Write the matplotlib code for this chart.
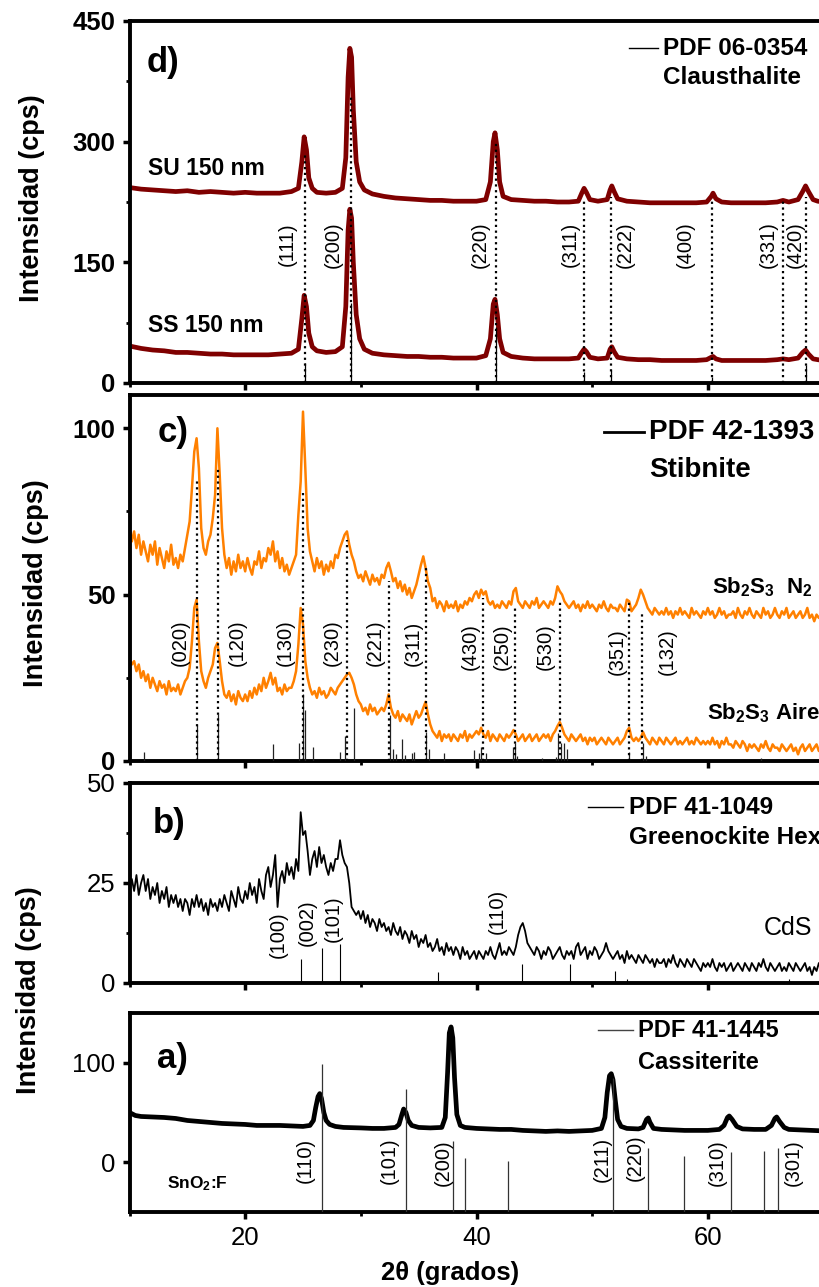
import numpy as np
import matplotlib
matplotlib.use("Agg")
import matplotlib.pyplot as plt
from matplotlib.ticker import MultipleLocator

plt.rcParams['font.family'] = ['Liberation Sans', 'DejaVu Sans']
plt.rcParams['mathtext.fontset'] = 'custom'
plt.rcParams['mathtext.rm'] = 'Liberation Sans:bold'
plt.rcParams['mathtext.bf'] = 'Liberation Sans:bold'
plt.rcParams['mathtext.it'] = 'Liberation Sans:bold:italic'

# ---------------------------------------------------------------- data
# d) PbSe films (Clausthalite)
pbse_x = [10, 11, 12, 13, 14, 15, 16, 17, 18, 19, 20, 21, 22, 23, 24, 24.6, 24.9, 25.1, 25.3, 25.5,
          25.8, 26.2, 27, 27.8, 28.4, 28.7, 28.9, 29.05, 29.2, 29.35, 29.6, 29.9, 30.3, 31, 32, 33, 34,
          35, 36, 37, 38, 39, 40, 40.8, 41.2, 41.45, 41.6, 41.8, 42.0, 42.3, 43, 44, 45, 46, 47, 48,
          48.8, 49.1, 49.3, 49.5, 49.8, 50.5, 51.3, 51.55, 51.7, 51.9, 52.2, 53, 54, 55, 56, 57, 58,
          59, 59.9, 60.3, 60.45, 60.7, 61.2, 62, 63, 64, 65, 66, 66.5, 67, 67.8, 68.2, 68.45, 68.7,
          69.1, 69.5, 70]
pbse_su = [243, 241, 240, 239, 238, 239, 237, 238, 237, 236, 237, 236, 236, 236, 238, 242, 275, 306,
           290, 255, 242, 237, 236, 237, 242, 280, 380, 416, 405, 340, 275, 250, 240, 235, 232, 230,
           229, 228, 227, 227, 226, 226, 226, 228, 250, 300, 311, 290, 250, 232, 228, 227, 226, 226,
           225, 225, 226, 236, 242, 237, 228, 226, 228, 240, 245, 238, 229, 226, 225, 224, 224, 224,
           224, 224, 225, 232, 236, 229, 225, 224, 224, 224, 224, 225, 227, 225, 228, 238, 245, 238,
           228, 226, 225]
pbse_ss = [46, 43, 41, 40, 38, 38, 37, 36, 36, 35, 35, 35, 35, 36, 37, 42, 80, 109, 95, 62, 45, 40,
           38, 39, 45, 95, 190, 216, 205, 150, 85, 55, 42, 37, 35, 34, 33, 33, 32, 32, 31, 31, 31, 34,
           55, 98, 104, 85, 55, 38, 33, 31, 30, 30, 30, 30, 31, 38, 42, 39, 32, 30, 31, 42, 45, 39,
           32, 30, 29, 29, 28, 28, 28, 28, 29, 32, 33, 30, 28, 28, 28, 28, 28, 29, 30, 29, 31, 38,
           41, 36, 30, 29, 28]
pbse_pos = [25.16, 29.14, 41.66, 49.3, 51.66, 60.4, 66.5, 68.5]
pbse_int = [25, 100, 70, 14, 16, 8, 3, 22]
pbse_hkl = ['(111)', '(200)', '(220)', '(311)', '(222)', '(400)', '(331)', '(420)']

# c) Sb2S3 films (Stibnite), sampled every 0.2 deg from 10 to 70
sb_step = 0.2
sb_n2 = [70, 66, 69, 64, 68, 62, 66, 63, 60, 65,
         62, 66, 59, 64, 61, 58, 63, 60, 65, 59,
         61, 58, 62, 60, 64, 68, 72, 82, 93, 97,
         88, 70, 64, 62, 66, 68, 73, 80, 100, 86,
         70, 62, 58, 61, 56, 60, 57, 62, 58, 60,
         57, 61, 58, 56, 60, 59, 63, 58, 61, 60,
         64, 62, 66, 60, 63, 58, 61, 57, 59, 56,
         58, 60, 62, 74, 84, 105, 88, 70, 63, 60,
         57, 61, 58, 60, 56, 59, 57, 60, 58, 62,
         61, 64, 66, 68, 69, 65, 62, 60, 57, 55,
         56, 54, 57, 55, 53, 56, 54, 55, 53, 56,
         55, 58, 59.6, 57, 54, 55, 52, 54, 51, 53,
         50, 52, 49, 51, 53, 56, 59, 61.5, 58, 54,
         52, 48, 49, 46, 48, 47, 45, 48, 46, 47,
         46, 48, 45, 47, 46, 48, 47, 49, 48, 50,
         51, 49, 51.5, 50, 51, 48, 47, 48, 46, 47,
         46, 48, 47, 46, 48, 47, 51, 52, 48, 47,
         46, 48, 47, 46, 48, 47, 49, 46, 47, 48,
         47, 46, 48, 47, 49, 52.5, 51, 50, 48, 47,
         46, 47, 48, 46, 47, 45, 47, 46, 48, 46,
         47, 46, 45, 47, 46, 48, 46, 45, 47, 46,
         46, 45, 47, 46, 45, 48.5, 48, 45, 46, 47,
         49, 51.5, 50, 48, 46, 45, 44, 46, 45, 44,
         45, 44, 46, 44, 45, 43, 45, 44, 46, 44,
         45, 44, 43, 46, 44, 45, 44, 43, 45, 44,
         46, 44, 45, 43, 44, 46, 44, 45, 43, 44,
         44, 45, 43, 46, 44, 43, 45, 44, 46, 44,
         43, 45, 44, 43, 46, 44, 45, 43, 44, 46,
         44, 43, 45, 44, 46, 43, 44, 45, 43, 44,
         45, 43, 44, 46, 43, 44, 42, 44, 43, 44,
         43]
sb_aire = [31, 29, 30, 27, 29, 25, 27, 24, 26, 22,
           25, 23, 21, 24, 22, 23, 20, 24, 21, 22,
           21, 23, 20, 22, 24, 25, 28, 36, 46, 48.5,
           36, 27, 24, 22, 25, 27, 29, 34, 35.5, 30,
           24, 20, 19, 21, 18, 20, 17, 21, 19, 18,
           20, 18, 21, 19, 22, 20, 23, 21, 25, 22,
           24, 26.5, 23, 25, 21, 22, 20, 23, 21, 22,
           22, 24, 27, 35, 46, 41, 30, 25, 22, 20,
           21, 19, 22, 20, 21, 19, 20, 22, 21, 20,
           22, 23, 24, 25, 26, 26.5, 25, 23, 20, 18,
           17, 15, 16, 14, 17, 15, 16, 14, 15, 16,
           15, 17, 20, 16, 14, 13, 15, 12, 14, 13,
           12, 14, 11, 13, 15, 13, 14, 16, 17.8, 14,
           11, 9, 8, 7, 9, 6, 8, 7, 8, 6,
           8, 7, 6, 8, 7, 9, 6, 8, 7, 8,
           9, 8, 10, 8, 7, 9, 6, 8, 7, 6,
           8, 7, 6, 8, 7, 8, 9.3, 8, 6, 7,
           8, 6, 7, 8, 6, 7, 8, 6, 7, 8,
           7, 8, 6, 8, 9, 10.5, 11.7, 10, 8, 7,
           6, 8, 7, 6, 7, 8, 6, 7, 5, 7,
           6, 7, 5, 6, 7, 6, 5, 7, 6, 5,
           6, 7, 5, 6, 7, 9, 10, 7, 6, 7,
           6, 7, 8.7, 7, 6, 5, 7, 6, 5, 7,
           6, 5, 7, 6, 5, 6, 7, 5, 6, 5,
           6, 7, 5, 6, 5, 7, 6, 5, 6, 5,
           6, 5, 7, 5, 6, 4, 6, 5, 7, 5,
           5, 4, 6, 5, 4, 6, 5, 3, 5, 4,
           5, 4, 3, 5, 4, 6, 4, 3, 5, 4,
           4, 3, 5, 4, 3, 4, 5, 3, 4, 2,
           4, 5, 3, 4, 5, 3, 4, 5, 3, 4,
           4]
sb_hkl_pos = [15.81, 17.62, 25.03, 28.78, 32.46, 35.65, 40.52, 43.3, 47.2, 53.18, 54.3]
sb_hkl_top = [85, 88, 81, 66.5, 54, 59, 49, 46.5, 48, 48.5, 44.6]
sb_hkl = ['(020)', '(120)', '(130)', '(230)', '(221)', '(311)', '(430)', '(250)', '(530)',
          '(351)', '(132)']
sb_pdf_pos = [11.26, 15.82, 17.63, 22.43, 24.68, 25.0, 25.14, 25.86, 28.23, 28.66, 29.38, 32.55,
              32.79, 33.0, 33.56, 33.85, 34.43, 34.57, 35.67, 35.87, 37.17, 39.77, 40.2, 40.4,
              40.78, 43.18, 43.32, 43.46, 45.69, 46.84, 47.04, 47.27, 47.56, 47.79, 53.19, 54.37,
              54.63, 64.58]
sb_pdf_int = [2.6, 10.8, 14, 5.1, 5.3, 20, 15.4, 4.3, 2.6, 7.5, 16, 13.9,
              3.5, 2, 6.5, 1.8, 2.3, 2.8, 8.8, 3.5, 2.3, 3.3, 2.3, 4.3,
              2.5, 4.1, 5.3, 1.5, 1, 1.3, 8.5, 5.3, 5.3, 3.5, 2.8, 5.3,
              1.5, 1]

# b) CdS film (Greenockite), sampled every 0.2 deg from 10 to 70
cds_step = 0.2
cds = [24, 26, 23, 27, 22, 25, 27, 23, 26, 21,
       24, 22, 25, 20, 23, 21, 24, 19, 22, 20,
       22, 19, 21, 18, 21, 20, 17, 21, 19, 22,
       19, 21, 18, 20, 17, 21, 19, 20, 18, 21,
       19, 22, 20, 18, 23, 21, 19, 24, 21, 20,
       23, 21, 25, 22, 24, 20, 26, 23, 21, 27,
       29, 24, 27, 32, 19, 26, 28, 25, 30, 27,
       29, 26, 31, 28, 42.7, 37, 38, 33, 27, 31,
       33, 29, 34, 30, 32, 29, 27, 30, 28, 31,
       31, 35.7, 32, 30, 29, 25, 19, 18, 17, 18,
       16, 18, 15, 17, 14, 16, 15, 13, 16, 14,
       15, 13, 14, 12, 15, 13, 12, 14, 11, 13,
       12, 10, 13, 11, 12, 9, 11, 10, 12, 9,
       10, 8, 9, 11, 8, 9, 7, 10, 8, 9,
       7, 9, 8, 6, 9, 7, 8, 6, 7, 8,
       6, 8, 7, 6, 8, 7, 9, 7, 6, 8,
       10, 7, 8, 7, 9, 8, 7, 9, 12, 14,
       15, 13, 10, 9, 8, 7, 9, 8, 6, 8,
       7, 9, 8, 6, 7, 8, 9, 7, 6, 8,
       7, 8, 6, 9, 10, 7, 8, 9, 6, 8,
       7, 9, 8, 6, 7, 8, 10, 8, 7, 6,
       7, 8, 6, 7, 5, 8, 6, 7, 6, 5,
       7, 6, 5, 7, 6, 5, 6, 4, 6, 5,
       5, 6, 4, 6, 5, 7, 5, 4, 6, 5,
       4, 6, 5, 4, 6, 5, 4, 3, 5, 4,
       5, 4, 6, 4, 3, 5, 4, 5, 3, 4,
       5, 3, 4, 5, 4, 3, 5, 4, 3, 5,
       4, 3, 5, 4, 6, 4, 3, 5, 4, 3,
       4, 5, 3, 4, 3, 5, 4, 3, 5, 4,
       3, 4, 5, 3, 4, 2, 4, 3, 5, 3,
       3]
cds_pdf_pos = [24.85, 26.6, 28.2, 36.7, 43.9, 48.05, 52.0, 53.0, 67.0]
cds_pdf_int = [6, 8.8, 9.8, 2.7, 4.7, 4.7, 3, 1, 1]
cds_hkl_pos = [24.85, 26.6, 28.2, 43.9]
cds_hkl = ['(100)', '(002)', '(101)', '(110)']

# a) SnO2:F substrate (Cassiterite)
fto_x = [10, 10.5, 11, 12, 13, 14, 15, 16, 17, 18, 19, 20, 21, 22, 23, 24, 25, 25.6, 25.9, 26.1,
         26.3, 26.45, 26.6, 26.8, 27.0, 27.3, 27.8, 28.5, 30, 31, 32, 33, 33.3, 33.55, 33.7, 33.9,
         34.1, 34.4, 35, 36, 37.0, 37.3, 37.5, 37.65, 37.8, 37.95, 38.1, 38.3, 38.6, 39, 40, 41,
         42, 43, 44, 45, 46, 47, 48, 49, 50, 50.8, 51.1, 51.3, 51.5, 51.65, 51.8, 52.0, 52.2, 52.5,
         53, 54, 54.4, 54.7, 54.85, 55.0, 55.3, 56, 57, 58, 59, 60, 61, 61.4, 61.7, 61.85, 62.1,
         62.5, 63, 64, 65, 65.5, 65.8, 65.95, 66.2, 66.6, 67, 68, 69, 70]
fto_y = [50, 47, 46, 45.5, 45, 44, 42, 41, 40, 39, 38.5, 38, 37, 37, 37, 36.5, 36, 37, 42, 55,
         66, 69, 64, 50, 42, 38, 36, 35, 34.5, 34, 34, 35, 38, 48, 53.5, 50,
         42, 37, 35, 34.5, 35, 45, 90, 130, 136, 125, 85, 48, 37, 35, 34, 33.5,
         33, 33, 32, 31.5, 31, 31.5, 31, 31.5, 32, 34, 45, 70, 87, 89, 83, 62, 43, 36,
         34, 33.5, 35, 43, 44.5, 40, 34, 33, 32.5, 32, 32, 32, 33, 37, 45, 46.5, 43,
         36, 33.5, 33, 33, 37, 44, 45.5, 41, 35, 33, 32.5, 32, 31.5]
fto_pdf_pos = [26.6, 33.9, 38.0, 39.0, 42.7, 51.8, 54.8, 57.9, 62.0, 64.85, 66.1]
fto_pdf_int = [149, 124, 71, 54, 51, 135, 64, 56, 60, 61, 64]
fto_hkl_pos = [26.6, 33.9, 38.0, 51.8, 54.8, 62.0, 66.1]
fto_hkl = ['(110)', '(101)', '(200)', '(211)', '(220)', '(310)', '(301)']

# ---------------------------------------------------------------- layout
FIG_W, FIG_H = 819, 1287
fig = plt.figure(figsize=(FIG_W / 100, FIG_H / 100), dpi=100)
fig.patch.set_facecolor('white')

DARK_RED = '#7f0000'
ORANGE = '#ff8000'
TICK_SIZE = 18.5


def panel(top, bottom):
    ax = fig.add_axes([129.5 / FIG_W, 1 - bottom / FIG_H, 694 / FIG_W, (bottom - top) / FIG_H])
    ax.set_xlim(10, 70)
    ax.spines['right'].set_visible(False)
    for s in ('left', 'bottom', 'top'):
        ax.spines[s].set_linewidth(2.8)
    ax.xaxis.set_major_locator(MultipleLocator(20))
    ax.xaxis.set_minor_locator(MultipleLocator(10))
    ax.tick_params(which='major', direction='out', length=5, width=2.5, pad=5,
                   labelsize=TICK_SIZE)
    ax.tick_params(which='minor', direction='out', length=3, width=2)
    ax.tick_params(which='both', top=False, right=False)
    return ax


def hkl_labels(ax, xs, ys, labels, size=14):
    for x, y, t in zip(xs, ys, labels):
        ax.text(x, y, t, rotation=90, ha='center', va='center', fontsize=size)


def legend_entry(ax, x0, x1, y, y2, title, name, lw, size, color='black'):
    ax.plot([x0, x1], [y, y], color=color, lw=lw, clip_on=False)
    ax.text(x1 + 0.45, y, title, fontsize=size, fontweight='bold', va='center', ha='left',
            clip_on=False)
    ax.text(x1 + 0.45, y2, name, fontsize=size, fontweight='bold', va='center', ha='left',
            clip_on=False)


# ---- d) PbSe
ax_d = panel(21, 383)
ax_d.set_ylim(0, 450)
ax_d.set_yticks([0, 150, 300, 450])
ax_d.set_yticklabels(['0', '150', '300', '450'], fontweight='bold')
ax_d.yaxis.set_minor_locator(MultipleLocator(75))
ax_d.tick_params(labelbottom=False)
ax_d.plot(pbse_x, pbse_su, color=DARK_RED, lw=3.4, solid_joinstyle='round', zorder=2)
ax_d.plot(pbse_x, pbse_ss, color=DARK_RED, lw=3.4, solid_joinstyle='round', zorder=2)
d_dot_top = [286, 356, 298, 227, 231, 227, 227, 231]
ax_d.vlines(pbse_pos, 0, d_dot_top, color='black', lw=1.6, linestyles=(0, (1, 1.6)), zorder=3)
ax_d.vlines(pbse_pos, 0, pbse_int, color='black', lw=0.9, zorder=3)
d_lab_dx = [-1.54, -1.54, -1.36, -1.22, 1.18, -2.37, -1.24, -0.96]
hkl_labels(ax_d, np.add(pbse_pos, d_lab_dx), [172] * 8, pbse_hkl, size=14.5)
ax_d.text(11.5, 398, 'd)', fontsize=25, fontweight='bold', va='center', ha='left')
ax_d.text(11.6, 267, 'SU 150 nm', fontsize=16.5, fontweight='bold', va='center', ha='left')
ax_d.text(11.6, 72, 'SS 150 nm', fontsize=16.5, fontweight='bold', va='center', ha='left')
legend_entry(ax_d, 53.2, 55.7, 416, 380, 'PDF 06-0354', 'Clausthalite', 1.0, 17.5)

# ---- c) Sb2S3
sb_x = 10 + sb_step * np.arange(len(sb_n2))
ax_c = panel(395, 761)
ax_c.set_ylim(0, 110)
ax_c.set_yticks([0, 50, 100])
ax_c.set_yticklabels(['0', '50', '100'], fontweight='bold')
ax_c.yaxis.set_minor_locator(MultipleLocator(25))
ax_c.tick_params(labelbottom=False)
ax_c.plot(sb_x, sb_n2, color=ORANGE, lw=1.8, zorder=2)
ax_c.plot(sb_x, sb_aire, color=ORANGE, lw=1.8, zorder=2)
ax_c.vlines(sb_pdf_pos, 0, sb_pdf_int, color='#222222', lw=0.9, zorder=3)
ax_c.vlines(sb_hkl_pos, 0, sb_hkl_top, color='black', lw=1.6, linestyles=(0, (1, 1.6)), zorder=3)
c_lab_dx = [-1.44, 1.68, -1.58, -1.28, -1.24, -1.15, -1.08, -1.1, -1.28, -1.03, 2.17]
c_lab_y = [35.5, 35.5, 35.5, 35.5, 35.5, 35.5, 34.5, 34.5, 34.5, 33, 33]
hkl_labels(ax_c, np.add(sb_hkl_pos, c_lab_dx), c_lab_y, sb_hkl, size=14.5)
ax_c.text(12.45, 98.6, 'c)', fontsize=25, fontweight='bold', va='center', ha='left')
ax_c.text(60.4, 52.3, 'Sb$_2$S$_3$  N$_2$', fontsize=16, fontweight='bold', va='center',
          ha='left', clip_on=False)
ax_c.text(59.95, 14.4, 'Sb$_2$S$_3$ Aire', fontsize=16, fontweight='bold', va='center',
          ha='left', clip_on=False)
legend_entry(ax_c, 51.0, 54.5, 98.9, 87.5, 'PDF 42-1393', 'Stibnite', 2.0, 20)

# ---- b) CdS
cds_x = 10 + cds_step * np.arange(len(cds))
ax_b = panel(783, 983)
ax_b.set_ylim(0, 50)
ax_b.set_yticks([0, 25, 50])
ax_b.yaxis.set_minor_locator(MultipleLocator(12.5))
ax_b.tick_params(labelbottom=False)
ax_b.plot(cds_x, cds, color='black', lw=1.3, zorder=2)
ax_b.vlines(cds_pdf_pos, 0, cds_pdf_int, color='black', lw=0.8, zorder=3)
b_lab_dx = [-2.0, -1.25, -0.6, -2.1]
b_lab_y = [12, 15, 16, 18]
hkl_labels(ax_b, np.add(cds_hkl_pos, b_lab_dx), b_lab_y, cds_hkl, size=14.5)
ax_b.text(12.0, 40, 'b)', fontsize=25, fontweight='bold', va='center', ha='left')
ax_b.text(64.8, 13.75, 'CdS', fontsize=18, va='center', ha='left', clip_on=False)
legend_entry(ax_b, 49.6, 52.7, 44, 36.5, 'PDF 41-1049', 'Greenockite Hex', 1.0, 17.5)

# ---- a) SnO2:F
ax_a = panel(1013, 1212)
ax_a.set_ylim(-50, 150)
ax_a.set_yticks([0, 100])
ax_a.plot(fto_x, fto_y, color='black', lw=3.4, solid_joinstyle='round', zorder=2)
ax_a.vlines(fto_pdf_pos, -50, np.add(-50, fto_pdf_int), color='#333333', lw=0.9, zorder=3)
a_lab_dx = [-1.4, -1.4, -0.9, -0.95, -1.1, -1.2, 1.3]
a_lab_y = [2, 2, 0, 3, 5, 0, 0]
hkl_labels(ax_a, np.add(fto_hkl_pos, a_lab_dx), a_lab_y, fto_hkl, size=14.5)
ax_a.text(12.4, 104, 'a)', fontsize=25, fontweight='bold', va='center', ha='left')
ax_a.text(13.25, -21.8, 'SnO$_2$:F', fontsize=12.5, fontweight='bold', va='center', ha='left')
legend_entry(ax_a, 50.5, 53.5, 132.7, 100, 'PDF 41-1445', 'Cassiterite', 1.0, 17,
             color='#444444')
ax_a.set_xticks([20, 40, 60])

# axis titles
fig.text(450 / FIG_W, 1 - 1273 / FIG_H, '2θ (grados)', fontsize=18.5, fontweight='bold',
         ha='center', va='center')
for yc, xc in [(198, 32), (583, 36), (990, 29)]:
    fig.text(xc / FIG_W, 1 - yc / FIG_H, 'Intensidad (cps)', fontsize=19.5, fontweight='bold',
             rotation=90, ha='center', va='center')

fig.savefig('out.png', dpi=100, facecolor='white')
